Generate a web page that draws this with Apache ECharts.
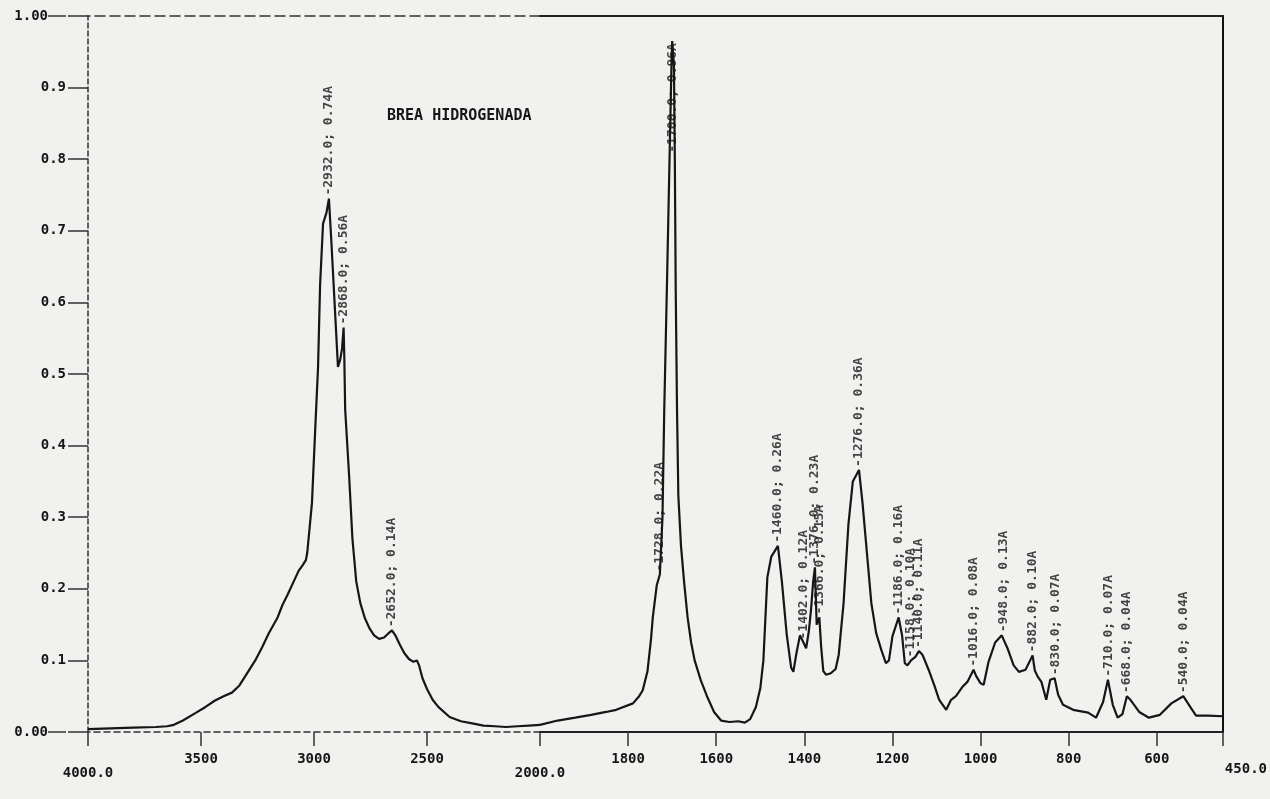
<!DOCTYPE html>
<html>
<head>
<meta charset="utf-8">
<script src="https://cdn.jsdelivr.net/npm/echarts@6/dist/echarts.min.js"></script>
<style>
html,body{margin:0;padding:0;background:#f1f1f0;}
#chart{width:1270px;height:799px;}
</style>
</head>
<body>
<div id="chart"></div>
<script>
// ---- data (wavenumber cm-1, absorbance) ----
const wavenumbers = [
4000,3900,3800,3700,3650,3620,3580,3527,3480,3438,3400,3363,3330,3292,3260,3230,3200,3161,3140,3115,3090,3068,3050,3036,3030,3009,2995,2982,2973,2960,2945,2934,2924,2914,2904,2894,2884,2876,2869,2866,2862,2845,2830,2813,2795,2776,2755,2734,2712,2690,2670,2655,2640,2620,2600,2580,2560,2545,2535,2520,2500,2475,2450,2400,2350,2300,2250,2200,2150,2100,2050,2000,
1960,1920,1884,1850,1827,1789,1775,1767,1756,1748,1744,1735,1728,1722,1718,1712,1706,1702,1700,1696,1694,1692,1689,1686,1680,1673,1665,1657,1649,1635,1621,1605,1589,1570,1550,1535,1523,1510,1500,1493,1484,1475,1460,1451,1440,1430,1425,1418,1410,1402,1396,1390,1385,1380,1376,1372,1366,1362,1357,1351,1340,1329,1322,1311,1300,1290,1276,1268,1258,1248,1237,1225,1215,1208,1200,1186,1178,1172,1166,1158,1148,1140,1132,1118,1105,1094,1078,1067,1056,1040,1030,1016,1010,1000,993,982,967,952,939,925,913,898,882,877,870,862,851,842,832,824,813,790,756,738,722,711,700,689,678,668,660,640,618,593,567,540,522,511,484,450
];
const absorbance = [
0.004,0.005,0.006,0.007,0.008,0.010,0.016,0.026,0.035,0.044,0.050,0.055,0.065,0.084,0.100,0.118,0.138,0.160,0.177,0.193,0.210,0.225,0.233,0.240,0.250,0.320,0.420,0.510,0.625,0.710,0.725,0.745,0.690,0.630,0.570,0.510,0.520,0.535,0.565,0.525,0.450,0.360,0.270,0.210,0.180,0.160,0.145,0.135,0.130,0.132,0.138,0.142,0.135,0.122,0.110,0.102,0.098,0.100,0.093,0.075,0.060,0.045,0.035,0.021,0.015,0.012,0.009,0.008,0.007,0.008,0.009,0.010,
0.016,0.020,0.024,0.028,0.031,0.040,0.050,0.058,0.085,0.130,0.160,0.205,0.220,0.300,0.450,0.620,0.800,0.920,0.965,0.930,0.800,0.620,0.450,0.330,0.260,0.210,0.160,0.125,0.100,0.072,0.050,0.028,0.016,0.014,0.015,0.013,0.018,0.035,0.061,0.100,0.216,0.245,0.260,0.210,0.136,0.090,0.084,0.110,0.135,0.125,0.117,0.140,0.170,0.210,0.230,0.150,0.160,0.120,0.085,0.080,0.082,0.088,0.108,0.180,0.290,0.350,0.366,0.320,0.250,0.180,0.138,0.114,0.096,0.100,0.134,0.160,0.134,0.096,0.093,0.100,0.105,0.113,0.108,0.087,0.065,0.045,0.031,0.045,0.050,0.064,0.070,0.087,0.078,0.068,0.066,0.098,0.125,0.135,0.117,0.093,0.084,0.087,0.107,0.086,0.077,0.070,0.045,0.073,0.075,0.052,0.038,0.031,0.027,0.020,0.042,0.073,0.038,0.020,0.025,0.050,0.045,0.028,0.020,0.024,0.040,0.050,0.033,0.023,0.023,0.022
];
const peakWavenumbers = [2934,2869,2655,1728,1700,1460,1402,1376,1366,1276,1186,1158,1140,1016,948,882,830,710,668,540];
const peakAbsorbance  = [0.745,0.565,0.142,0.220,0.965,0.260,0.125,0.230,0.160,0.366,0.160,0.100,0.113,0.087,0.135,0.107,0.075,0.073,0.050,0.050];
const peakLabels = [
"-2932.0; 0.74A","-2868.0; 0.56A","-2652.0; 0.14A","-1728.0; 0.22A","-1700.0; 0.96A",
"-1460.0; 0.26A","-1402.0; 0.12A","-1376.0; 0.23A","-1366.0; 0.15A","-1276.0; 0.36A",
"-1186.0; 0.16A","-1158.0; 0.10A","-1140.0; 0.11A","-1016.0; 0.08A","-948.0; 0.13A",
"-882.0; 0.10A","-830.0; 0.07A","-710.0; 0.07A","-668.0; 0.04A","-540.0; 0.04A"
];
const yTickLabels = ["0.00","0.1","0.2","0.3","0.4","0.5","0.6","0.7","0.8","0.9","1.00"];
const xUpperTicks = [4000,3500,3000,2500];
const xUpperTickLabels = ["4000.0","3500","3000","2500"];
const xLowerTicks = [2000,1800,1600,1400,1200,1000,800,600,450];
const xLowerTickLabels = ["2000.0","1800","1600","1400","1200","1000","800","600","450.0"];
const titleText = "BREA HIDROGENADA";

// ---- build ----
const upper = [], lower = [];
wavenumbers.forEach((w,i)=>{
  if (w >= 2000) upper.push([w, absorbance[i]]);
  if (w <= 2000) lower.push([w, absorbance[i]]);
});
const peaksUpper = [], peaksLower = [];
peakWavenumbers.forEach((w,i)=>{
  const item = {value:[w, peakAbsorbance[i]], name: peakLabels[i]};
  if (w === 1700) item.label = {align:'right', distance: -2};
  (w > 2000 ? peaksUpper : peaksLower).push(item);
});

const INK = '#161616';
const MONO = 'DejaVu Sans Mono';
const axisFont = {fontFamily: MONO, fontWeight: 'bold', fontSize: 14, color: INK};
const labelRich = {
  low: Object.assign({padding: [14,0,0,0]}, axisFont),
  end: Object.assign({padding: [10,0,0,46]}, axisFont)
};
const yRich = {
  t: Object.assign({}, axisFont),
  ln: {width: 18, height: 1.5, backgroundColor: '#333', verticalAlign: 'middle'}
};
function xFmt(ticks, labels){
  return function(v){
    const i = ticks.indexOf(Math.round(v));
    if (i < 0) return '';
    const t = labels[i];
    if (t === '450.0') return '{end|' + t + '}';
    if (t.indexOf('.') >= 0) return '{low|' + t + '}';
    return t;
  };
}
function yFmt(v){
  const t = yTickLabels[Math.round(v*10)];
  if (t.length > 3) return '{t|' + t + '}{ln|}';
  return '{t|' + t + '}';
}
const peakLabel = {
  show: true, formatter: '{b}', rotate: 90, position: 'top', distance: 3,
  align: 'left', verticalAlign: 'middle',
  fontFamily: MONO, fontWeight: 'bold', fontSize: 13, color: INK
};

const G0 = {left: 88, top: 16, width: 452, height: 716};
const G1 = {left: 540, top: 16, width: 698, height: 716};

const chart = echarts.init(document.getElementById('chart'), null, {renderer: 'canvas'});
chart.setOption({
  animation: false,
  backgroundColor: '#f1f1f0',
  title: {
    text: titleText, left: 382, top: 104,
    textStyle: {fontFamily: MONO, fontWeight: 'bold', fontSize: 15, color: INK}
  },
  grid: [G0, G1],
  xAxis: [
    { gridIndex: 0, type: 'value', min: 2000, max: 4000, inverse: true, position: 'bottom',
      splitLine: {show: false},
      axisLine: {show: true, onZero: false, lineStyle: {color: '#333', width: 1.5, type: [6,4]}},
      axisTick: {show: true, length: 14, customValues: xUpperTicks, lineStyle: {color: '#333', width: 1.5}},
      axisLabel: Object.assign({customValues: xUpperTicks, margin: 20, formatter: xFmt(xUpperTicks, xUpperTickLabels), rich: labelRich}, axisFont)
    },
    { gridIndex: 0, type: 'value', min: 2000, max: 4000, inverse: true, position: 'top',
      splitLine: {show: false}, axisTick: {show: false}, axisLabel: {show: false},
      axisLine: {show: true, onZero: false, lineStyle: {color: '#333', width: 1.5, type: [10,5]}}
    },
    { gridIndex: 1, type: 'value', min: 450, max: 2000, inverse: true, position: 'bottom',
      splitLine: {show: false},
      axisLine: {show: true, onZero: false, lineStyle: {color: '#222', width: 2}},
      axisTick: {show: true, length: 14, customValues: xLowerTicks, lineStyle: {color: '#333', width: 1.5}},
      axisLabel: Object.assign({customValues: xLowerTicks, margin: 20, formatter: xFmt(xLowerTicks, xLowerTickLabels), rich: labelRich, showMinLabel: true, showMaxLabel: true}, axisFont)
    },
    { gridIndex: 1, type: 'value', min: 450, max: 2000, inverse: true, position: 'top',
      splitLine: {show: false}, axisTick: {show: false}, axisLabel: {show: false},
      axisLine: {show: true, onZero: false, lineStyle: {color: '#222', width: 2}}
    }
  ],
  yAxis: [
    { gridIndex: 0, type: 'value', min: 0, max: 1, interval: 0.1, position: 'left',
      splitLine: {show: false},
      axisLine: {show: true, lineStyle: {color: '#333', width: 1.5, type: [5,3]}},
      axisTick: {show: true, length: 20, lineStyle: {color: '#333', width: 1.5}},
      axisLabel: Object.assign({margin: 22, formatter: yFmt, rich: yRich}, axisFont)
    },
    { gridIndex: 1, type: 'value', min: 0, max: 1, show: false },
    { gridIndex: 1, type: 'value', min: 0, max: 1, position: 'right',
      splitLine: {show: false}, axisTick: {show: false}, axisLabel: {show: false},
      axisLine: {show: true, lineStyle: {color: '#111', width: 2}}
    }
  ],
  series: [
    { type: 'line', xAxisIndex: 0, yAxisIndex: 0, data: upper, symbol: 'none', silent: true,
      lineStyle: {color: INK, width: 2.2} },
    { type: 'line', xAxisIndex: 2, yAxisIndex: 1, data: lower, symbol: 'none', silent: true,
      lineStyle: {color: INK, width: 2.2} },
    { type: 'scatter', xAxisIndex: 0, yAxisIndex: 0, data: peaksUpper, symbolSize: 0, silent: true,
      label: peakLabel },
    { type: 'scatter', xAxisIndex: 2, yAxisIndex: 1, data: peaksLower, symbolSize: 0, silent: true,
      label: peakLabel }
  ]
});
</script>
</body>
</html>
